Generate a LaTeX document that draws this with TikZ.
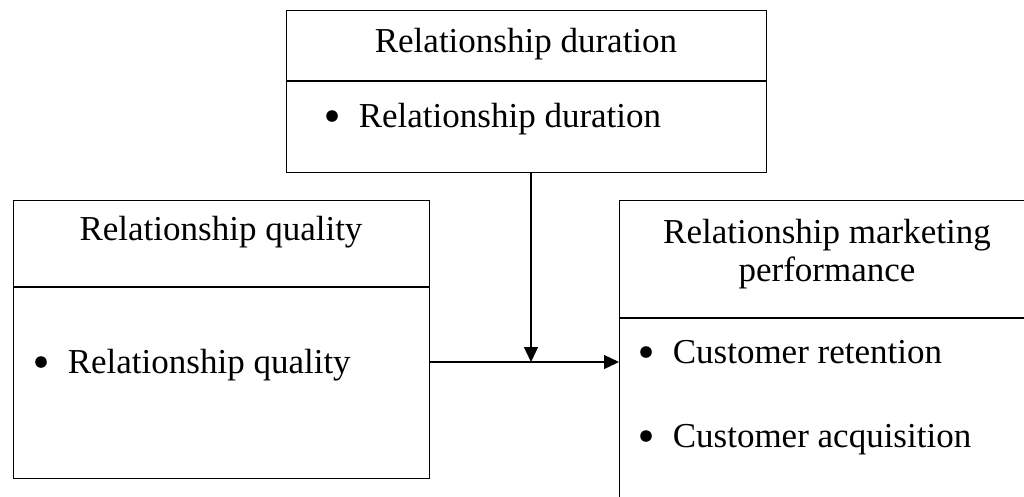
\documentclass[tikz,border=0pt]{standalone}
\usepackage{fontspec}
\setmainfont{Liberation Serif}
\usetikzlibrary{arrows.meta}
\newcommand{\bigbul}{\tikz[baseline=0pt]\fill (6pt,11pt) circle (5.8pt);\hspace{21pt}}
\tikzset{
  box/.style={draw, line width=1.3pt, rectangle, inner sep=0pt, anchor=north west},
  lbl/.style={inner sep=0pt, font=\fontsize{35pt}{38pt}\selectfont},
  item/.style={lbl, anchor=base west},
  conn/.style={line width=1.3pt, -{Triangle[length=15pt,width=14pt]}},
  divider/.style={line width=1.3pt}
}
\begin{document}
\begin{tikzpicture}[x=1pt,y=-1pt]
\useasboundingbox (0,0) rectangle (1024,496);
\clip (0,0) rectangle (1024,496);
% boxes
\node[box, minimum width=480pt, minimum height=162pt] (dur) at (286,10) {};
\node[box, minimum width=416pt, minimum height=278pt] (qual) at (13,200) {};
\node[box, minimum width=416pt, minimum height=330pt] (perf) at (619,200) {};
% dividers
\draw[divider] ([yshift=-71pt]dur.north west) -- ([yshift=-71pt]dur.north east);
\draw[divider] ([yshift=-87pt]qual.north west) -- ([yshift=-87pt]qual.north east);
\draw[divider] ([yshift=-118pt]perf.north west) -- ([yshift=-118pt]perf.north east);
% titles
\node[lbl, anchor=base] (durT) at (526,52) {Relationship duration};
\node[lbl, anchor=base] (qualT) at (221,240) {Relationship quality};
\node[lbl, align=center] (perfT) at (827,254) {Relationship marketing\\performance};
% items
\node[item] (durI) at (326,127) {\bigbul Relationship duration};
\node[item] (qualI) at (35,373) {\bigbul Relationship quality};
\node[item] (perfI1) at (640,363) {\bigbul Customer retention};
\node[item] (perfI2) at (640,447) {\bigbul Customer acquisition};
% connectors
\coordinate (j) at (531,362);
\draw[conn] (qual.east |- j) -- (perf.west |- j);
\draw[conn] (dur.south -| j) -- (j);
\end{tikzpicture}
\end{document}
